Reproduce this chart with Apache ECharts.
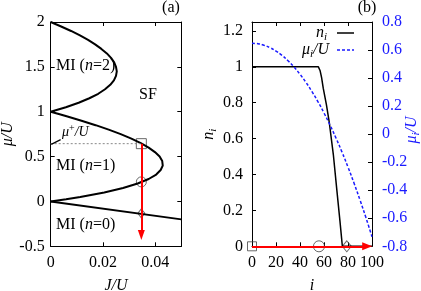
<!DOCTYPE html>
<html>
<head>
<meta charset="utf-8">
<script src="https://cdn.jsdelivr.net/npm/echarts@6/dist/echarts.min.js"></script>
<style>
html,body{margin:0;padding:0;background:#fff;}
#c{width:421px;height:291px;}
</style>
</head>
<body>
<div id="c"></div>
<script>
// ---------- Panel (a): Mott lobes ----------
const lobe2Mu = [1.00,1.05,1.10,1.15,1.20,1.25,1.30,1.35,1.40,1.45,1.50,1.55,1.60,1.65,1.70,1.75,1.80,1.85,1.90,1.95,2.00];
const lobe2J  = [0,0.0058,0.0107,0.0148,0.0182,0.0208,0.0228,0.0242,0.0250,0.0253,0.0250,0.0243,0.0231,0.0215,0.0194,0.0170,0.0143,0.0112,0.0078,0.0040,0];
const lobe1Mu = [0,0.025,0.05,0.10,0.15,0.20,0.25,0.30,0.35,0.40,0.45,0.50,0.55,0.60,0.65,0.70,0.75,0.80,0.85,0.90,0.95,0.975,1.00];
const lobe1J  = [0,0.0059,0.0113,0.0205,0.0277,0.0333,0.0375,0.0404,0.0421,0.0429,0.0427,0.0417,0.0399,0.0375,0.0345,0.0309,0.0268,0.0222,0.0172,0.0118,0.0061,0.0031,0];
const lobe0J  = [0,0.05];
const lobe0Mu = [0,-0.2];
const cutJ = 0.0347;
const muPlus = 0.644;
const markerMuA = [0.644, 0.218, -0.133];
const markerSymbols = ['rect','circle','diamond'];
const arrowEndMuA = -0.375;
const pointerJ = [0.0002, 0.0038];
const pointerMu = [0.636, 0.689];
const aXTicks = [0, 0.02, 0.04];
const aXLabels = ['0','0.02','0.04'];
const aYTicks = [-0.5, 0, 0.5, 1, 1.5, 2];
const aYLabels = ['-0.5','0','0.5','1','1.5','2'];

// ---------- Panel (b): density and local chemical potential ----------
const siteI = [0,55.3,56.7,58,59.4,62,64.4,67.8,70.6,73.3,75.3,100];
const siteN = [1,1,0.98,0.94,0.88,0.79,0.69,0.51,0.32,0.14,0,0];
const muI   = [0,5,10,15,20,25,30,35,40,45,50,55,60,65,70,75,80,85,90,95,100];
const muVal = [0.648,0.645,0.634,0.617,0.593,0.562,0.524,0.479,0.427,0.369,0.303,0.231,0.151,0.065,-0.028,-0.128,-0.235,-0.349,-0.470,-0.597,-0.732];
const markerIB = [0, 55.8, 79];
const markerNB = [0, 0, 0];
const arrowStartIB = 0;
const arrowEndIB = 96;
const bXTicks = [0,20,40,60,80,100];
const bXLabels = ['0','20','40','60','80','100'];
const bNTicks = [0,0.2,0.4,0.6,0.8,1,1.2];
const bNLabels = ['0','0.2','0.4','0.6','0.8','1','1.2'];
const bMuTicks = [-0.8,-0.6,-0.4,-0.2,0,0.2,0.4,0.6,0.8];
const bMuLabels = ['-0.8','-0.6','-0.4','-0.2','0','0.2','0.4','0.6','0.8'];

const FONT = 'Liberation Serif';
const FS = 16;
const BLUE = '#1a1aff';

function fmt(ticks, labels){
  return function(v){
    for (let k=0;k<ticks.length;k++){ if (Math.abs(v-ticks[k])<1e-7) return labels[k]; }
    return '';
  };
}
const zip = (a,b)=>a.map((v,k)=>[v,b[k]]);

const richIt = {
  it:{fontFamily:FONT,fontSize:FS,fontStyle:'italic'},
  sub:{fontFamily:FONT,fontSize:11,fontStyle:'italic',padding:[9,0,0,0]},
  sup:{fontFamily:FONT,fontSize:11,padding:[0,0,8,0]}
};
const richBlue = {
  it:{fontFamily:FONT,fontSize:FS,fontStyle:'italic',fill:BLUE,color:BLUE},
  sub:{fontFamily:FONT,fontSize:11,fontStyle:'italic',fill:BLUE,color:BLUE,padding:[9,0,0,0]}
};

function baseAxis(extra){
  return Object.assign({
    axisLine:{show:true,onZero:false,lineStyle:{color:'#000',width:1}},
    axisTick:{show:true,inside:true,length:4,lineStyle:{color:'#000'}},
    splitLine:{show:false},
    axisLabel:{fontFamily:FONT,fontSize:FS,color:'#000'}
  }, extra);
}

const markerStyle = {color:'rgba(0,0,0,0)',borderColor:'#444',borderWidth:1};

const option = {
  animation:false,
  backgroundColor:'#fff',
  grid:[
    {left:50.7, top:22, width:130.6, height:224.3, containLabel:false, outerBoundsMode:'none'},
    {left:252, top:22, width:120, height:224.3, containLabel:false, outerBoundsMode:'none'}
  ],
  xAxis:[
    baseAxis({type:'value',gridIndex:0,min:0,max:0.05,interval:0.02,position:'bottom',
      axisLabel:{fontFamily:FONT,fontSize:FS,color:'#000',margin:8,formatter:fmt(aXTicks,aXLabels)},
      name:'{it|J/U}',nameLocation:'middle',nameGap:31,
      nameTextStyle:{fontFamily:FONT,fontSize:FS,color:'#000',rich:richIt}}),
    baseAxis({type:'value',gridIndex:0,min:0,max:0.05,interval:0.02,position:'top',
      axisLabel:{show:false}}),
    baseAxis({type:'value',gridIndex:1,min:0,max:100,interval:20,position:'bottom',
      axisLabel:{fontFamily:FONT,fontSize:FS,color:'#000',margin:8,formatter:fmt(bXTicks,bXLabels)},
      name:'{it|i}',nameLocation:'middle',nameGap:31,
      nameTextStyle:{fontFamily:FONT,fontSize:FS,color:'#000',rich:richIt}}),
    baseAxis({type:'value',gridIndex:1,min:0,max:100,interval:20,position:'top',
      axisLabel:{show:false}})
  ],
  yAxis:[
    baseAxis({type:'value',gridIndex:0,min:-0.5,max:2,interval:0.5,position:'left',
      axisLabel:{fontFamily:FONT,fontSize:FS,color:'#000',margin:6,formatter:fmt(aYTicks,aYLabels)},
      name:'{it|μ/U}',nameLocation:'middle',nameGap:30,nameRotate:90,
      nameTextStyle:{fontFamily:FONT,fontSize:FS,color:'#000',rich:richIt}}),
    baseAxis({type:'value',gridIndex:0,min:-0.5,max:2,interval:0.5,position:'right',
      axisLabel:{show:false}}),
    baseAxis({type:'value',gridIndex:1,min:0,max:1.25,interval:0.2,position:'left',
      axisLabel:{fontFamily:FONT,fontSize:FS,color:'#000',margin:9,formatter:fmt(bNTicks,bNLabels)},
      name:'{it|n}{sub|i}',nameLocation:'middle',nameGap:33,nameRotate:90,
      nameTextStyle:{fontFamily:FONT,fontSize:FS,color:'#000',rich:richIt}}),
    baseAxis({type:'value',gridIndex:1,min:-0.8,max:0.8,interval:0.2,position:'right',
      axisLabel:{fontFamily:FONT,fontSize:FS,color:BLUE,margin:10,formatter:fmt(bMuTicks,bMuLabels)}})
  ],
  series:[
    {type:'line',xAxisIndex:0,yAxisIndex:0,data:zip(lobe2J,lobe2Mu),showSymbol:false,symbol:'none',
      lineStyle:{color:'#000',width:2},silent:true},
    {type:'line',xAxisIndex:0,yAxisIndex:0,data:zip(lobe1J,lobe1Mu),showSymbol:false,symbol:'none',
      lineStyle:{color:'#000',width:2},silent:true},
    {type:'line',xAxisIndex:0,yAxisIndex:0,data:zip(lobe0J,lobe0Mu),showSymbol:false,symbol:'none',
      lineStyle:{color:'#000',width:2},silent:true},
    {type:'line',xAxisIndex:0,yAxisIndex:0,data:[[0,muPlus],[cutJ,muPlus]],symbol:'none',
      lineStyle:{color:'#888',width:1,type:[2,2]},silent:true},
    {type:'line',xAxisIndex:0,yAxisIndex:0,data:zip(pointerJ,pointerMu),symbol:'none',
      lineStyle:{color:'#000',width:1.2},silent:true},
    {type:'line',xAxisIndex:0,yAxisIndex:0,data:[],symbol:'none',
      markLine:{silent:true,symbol:['none','triangle'],symbolSize:[7,10],label:{show:false},
        lineStyle:{color:'#f00',width:2,type:'solid'},
        data:[[{coord:[cutJ,muPlus]},{coord:[cutJ,arrowEndMuA]}]]}},
    {type:'scatter',xAxisIndex:0,yAxisIndex:0,
      data:markerMuA.map((m,k)=>({value:[cutJ,m],symbol:markerSymbols[k],symbolSize:k===0?10:(k===1?10:[7,9])})),
      itemStyle:markerStyle,silent:true},

    {name:'n',type:'line',xAxisIndex:2,yAxisIndex:2,data:zip(siteI,siteN),symbol:'none',
      lineStyle:{color:'#000',width:1.5}},
    {name:'mu',type:'line',xAxisIndex:2,yAxisIndex:3,data:zip(muI,muVal),symbol:'none',smooth:true,
      lineStyle:{color:BLUE,width:1.5,type:[3,2]}},
    {type:'line',xAxisIndex:2,yAxisIndex:2,data:[],symbol:'none',
      markLine:{silent:true,symbol:['none','triangle'],symbolSize:[8,10],label:{show:false},
        lineStyle:{color:'#f00',width:2,type:'solid'},
        data:[[{coord:[arrowStartIB,0]},{coord:[arrowEndIB,0]}]]}},
    {type:'scatter',xAxisIndex:2,yAxisIndex:2,
      data:markerIB.map((v,k)=>({value:[v,markerNB[k]],symbol:markerSymbols[k],symbolSize:k===0?9:(k===1?11:[9,11])})),
      itemStyle:markerStyle,silent:true}
  ],
  graphic:[
    {type:'text',x:171,y:8,style:{text:'(a)',fontFamily:FONT,fontSize:FS,fill:'#000',align:'center',verticalAlign:'middle'}},
    {type:'text',x:367,y:8,style:{text:'(b)',fontFamily:FONT,fontSize:FS,fill:'#000',align:'center',verticalAlign:'middle'}},
    {type:'text',x:56,y:66,style:{text:'MI ({it|n}=2)',fontFamily:FONT,fontSize:FS,fill:'#000',align:'left',verticalAlign:'middle',rich:richIt}},
    {type:'text',x:139,y:95,style:{text:'SF',fontFamily:FONT,fontSize:FS,fill:'#000',align:'left',verticalAlign:'middle'}},
    {type:'text',x:56,y:166,style:{text:'MI ({it|n}=1)',fontFamily:FONT,fontSize:FS,fill:'#000',align:'left',verticalAlign:'middle',rich:richIt}},
    {type:'text',x:56,y:225,style:{text:'MI ({it|n}=0)',fontFamily:FONT,fontSize:FS,fill:'#000',align:'left',verticalAlign:'middle',rich:richIt}},
    {type:'text',x:62,y:132,style:{text:'{i2|μ}{s2|+}{i2|/U}',fontFamily:FONT,fontSize:14,fill:'#000',align:'left',verticalAlign:'middle',
      rich:{i2:{fontFamily:FONT,fontSize:14,fontStyle:'italic'},s2:{fontFamily:FONT,fontSize:10,padding:[0,0,7,0]}}}},
    // right axis title (panel b)
    {type:'text',x:412,y:130,rotation:Math.PI/2,style:{text:'{it|μ}{sub|i}{it|/U}',fontFamily:FONT,fontSize:FS,fill:BLUE,align:'center',verticalAlign:'middle',rich:richBlue}},
    // legend (panel b)
    {type:'text',x:327,y:33,style:{text:'{it|n}{sub|i}',fontFamily:FONT,fontSize:FS,fill:'#000',align:'right',verticalAlign:'middle',rich:richIt}},
    {type:'line',shape:{x1:337,y1:33,x2:354,y2:33},style:{stroke:'#000',lineWidth:1.5}},
    {type:'text',x:329,y:50,style:{text:'{it|μ}{sub|i}{it|/U}',fontFamily:FONT,fontSize:FS,fill:'#000',align:'right',verticalAlign:'middle',rich:richIt}},
    {type:'line',shape:{x1:337,y1:50,x2:354,y2:50},style:{stroke:BLUE,lineWidth:1.5,lineDash:[3,2]}}
  ]
};

const chart = echarts.init(document.getElementById('c'), null, {renderer:'canvas'});
chart.setOption(option);
</script>
</body>
</html>
